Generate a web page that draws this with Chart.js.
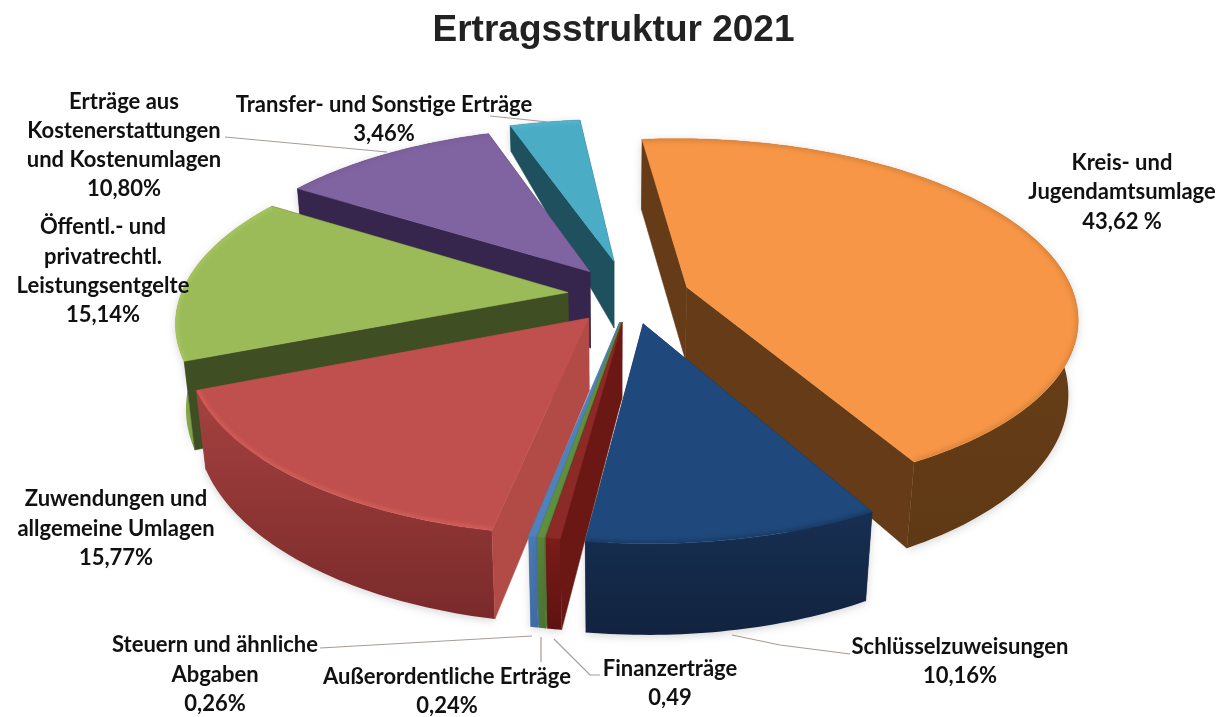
<!DOCTYPE html>
<html><head><meta charset="utf-8">
<style>html,body{margin:0;padding:0;background:#fff}canvas{display:block}</style>
<script src="https://cdn.jsdelivr.net/npm/chart.js@4"></script>
</head><body><canvas id="c" width="1227" height="717"></canvas>
<script>
const categories=["Kreis- und Jugendamtsumlage","Schlüsselzuweisungen","Finanzerträge","Außerordentliche Erträge","Steuern und ähnliche Abgaben","Zuwendungen und allgemeine Umlagen","Öffentl.- und privatrechtl. Leistungsentgelte","Erträge aus Kostenerstattungen und Kostenumlagen","Transfer- und Sonstige Erträge"];
const values=[43.62,10.16,0.49,0.24,0.26,15.77,15.14,10.80,3.46];
const valueTexts=["43,62 %","10,16%","0,49","0,24%","0,26%","15,77%","15,14%","10,80%","3,46%"];
const labelLines=[["Kreis- und","Jugendamtsumlage"],["Schlüsselzuweisungen"],["Finanzerträge"],["Außerordentliche Erträge"],["Steuern und ähnliche","Abgaben"],["Zuwendungen und","allgemeine Umlagen"],["Öffentl.- und","privatrechtl.","Leistungsentgelte"],["Erträge aus","Kostenerstattungen","und Kostenumlagen"],["Transfer- und Sonstige Erträge"]];
const explode=[.15,.16,.15,.15,.15,.165,.16,.17,.20];
const topColors=["#f79646","#1f497d","#8c2a27","#5f8f3e","#4f81bd","#c0504d","#9bbb59","#8064a2","#4bacc6"];
const rimColors=["rgba(90,50,10,.18)","rgba(0,0,0,.2)","rgba(0,0,0,0)","rgba(0,0,0,0)","rgba(0,0,0,0)","rgba(255,130,120,.3)","rgba(190,220,110,.35)","rgba(0,0,0,.06)","rgba(120,210,230,.25)"];
const outerWall=[["#6e4219","#5f3915"],["#172f52","#11233f"],["#7a1c1a","#5e1210"],["#5a8437","#4a7530"],["#4a7ab5","#3f6ca6"],["#a5423f","#7a2a2b"],["#8fb04f","#82a346"],["#36264e","#2c1e42"],["#1f4f5c","#1a444f"]];
const radialWall=["#653c17","#152b4b","#6b1815","#527a32","#4675ad","#b24a46","#3f4f23","#36264e","#1f505d"];
const depthFar=[70,85,90,90,90,70,70,23,28];
const depthNear=[72,72,72,72,72,70,82,80,72];
const drawOrder=[8,7,6,0,5,4,3,2,1];
const labelPos=[[1122,[163,192,222]],[960,[647,676]],[670,[669,698]],[447,[677,706]],[215,[645,675,704]],[116,[499,529,558]],[103,[227,257,286,315]],[124,[102,131,160,189]],[384,[105,134]]];
const leaders=[[[490,116],[548,122]],[[225,137],[387,152]],[[732,635],[780,645],[850,654]],[[554,639],[590,675],[600,675]],[[541,637],[541,662]],[[320,648],[532,636]]];
const cam={px:613,horizon:-800,H:6735,F:2430,Wc:6.15,u0:.045,radius:.98,vert:.00028};

function proj(u,n){const W=cam.Wc-n;return {x:cam.px+cam.F*u/W,y:cam.horizon+cam.H/W,W};}
function depthAt(i,W){
  const d=W-cam.Wc-.07;
  if(d>=0){const t=Math.min(d,1.1);return depthNear[i]+(depthFar[i]-depthNear[i])*t;}
  return depthNear[i]-d*16;
}
function low(i,p){const d=depthAt(i,p.W);return {x:p.x+(cam.px-p.x)*d*cam.vert,y:p.y+d,W:p.W};}
function path(ctx,pts){ctx.beginPath();pts.forEach((p,k)=>k?ctx.lineTo(p.x,p.y):ctx.moveTo(p.x,p.y));ctx.closePath();}
function grad(ctx,pts,c0,c1){const ys=pts.map(p=>p.y);const g=ctx.createLinearGradient(0,Math.min(...ys),0,Math.max(...ys));g.addColorStop(0,c0);g.addColorStop(1,c1);return g;}

const pie3d={id:'pie3d',
  beforeDatasetsDraw(chart){
    const ctx=chart.ctx,arcs=chart.getDatasetMeta(0).data,R=cam.radius;
    drawOrder.forEach(i=>{
      const el=arcs[i],a0=el.startAngle,a1=el.endAngle,mid=(a0+a1)/2,o=el.options.offset/100;
      const tu=cam.u0+Math.cos(mid)*o,tn=Math.sin(mid)*o;
      const tip=proj(tu,tn),arc=[];
      const steps=Math.max(2,Math.ceil((a1-a0)/(Math.PI/180)));
      for(let s=0;s<=steps;s++){const a=a0+(a1-a0)*s/steps;arc.push(proj(tu+R*Math.cos(a),tn+R*Math.sin(a)));}
      const first=arc[0],last=arc[arc.length-1];
      const wallS=[tip,first,low(i,first),low(i,tip)],wallE=[tip,last,low(i,last),low(i,tip)];
      const faces=(ang)=>Math.cos(ang)*(0-tu)+Math.sin(ang)*(cam.Wc-tn)>0;
      const sFront=faces(a0-Math.PI/2),eFront=faces(a1+Math.PI/2);
      const radial=(q)=>{path(ctx,q);ctx.fillStyle=radialWall[i];ctx.strokeStyle=radialWall[i];ctx.lineWidth=.5;ctx.fill();ctx.stroke();};
      if(!sFront)radial(wallS);if(!eFront)radial(wallE);
      const band=arc.concat(arc.slice().reverse().map(p=>low(i,p)));
      ctx.save();ctx.shadowColor='rgba(60,60,70,.22)';ctx.shadowBlur=9;ctx.shadowOffsetY=2;
      path(ctx,band);ctx.fillStyle=grad(ctx,band,outerWall[i][0],outerWall[i][1]);ctx.fill();ctx.restore();
      if(sFront)radial(wallS);if(eFront)radial(wallE);
      const top=[tip].concat(arc);
      path(ctx,top);ctx.fillStyle=topColors[i];ctx.strokeStyle=topColors[i];ctx.lineWidth=.5;ctx.fill();ctx.stroke();
      ctx.save();path(ctx,top);ctx.clip();
      ctx.strokeStyle=rimColors[i];ctx.lineWidth=5;ctx.filter='blur(2px)';
      ctx.beginPath();arc.forEach((p,k)=>k?ctx.lineTo(p.x,p.y):ctx.moveTo(p.x,p.y));ctx.stroke();
      ctx.restore();
    });
    return false;
  },
  afterDraw(chart){
    const ctx=chart.ctx;
    ctx.save();ctx.strokeStyle='#a89c94';ctx.lineWidth=1.2;
    leaders.forEach(l=>{ctx.beginPath();l.forEach((p,k)=>k?ctx.lineTo(p[0],p[1]):ctx.moveTo(p[0],p[1]));ctx.stroke();});
    ctx.fillStyle='#111';ctx.font='700 22px Lato';ctx.textAlign='center';ctx.textBaseline='middle';
    labelPos.forEach((lp,i)=>{labelLines[i].concat(valueTexts[i]).forEach((t,k)=>ctx.fillText(t,lp[0],lp[1][k]));});
    ctx.restore();
  }
};
new Chart(document.getElementById('c'),{type:'pie',
  data:{labels:categories,datasets:[{data:values,backgroundColor:topColors,offset:explode.map(e=>e*100),borderWidth:0}]},
  options:{responsive:false,animation:false,rotation:-6,
    layout:{padding:0},
    plugins:{legend:{display:false},tooltip:{enabled:false},
      title:{display:true,text:'Ertragsstruktur 2021',color:'#222',font:{family:'"Liberation Sans"',size:37,weight:'bold'},padding:{top:9,bottom:8}}}},
  plugins:[pie3d]});
</script></body></html>
